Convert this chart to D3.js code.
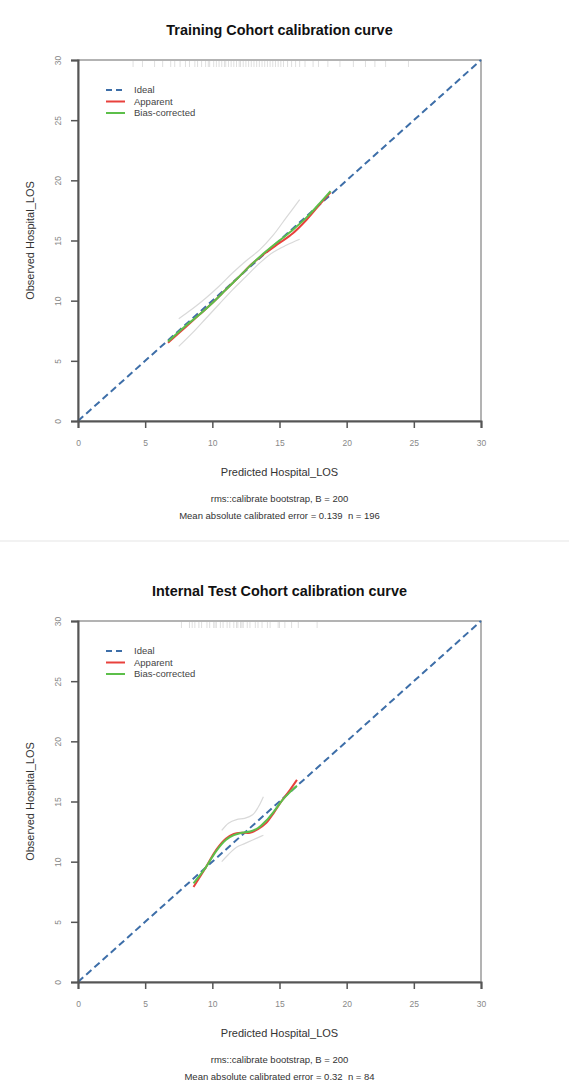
<!DOCTYPE html>
<html>
<head>
<meta charset="utf-8">
<script src="https://cdn.jsdelivr.net/npm/d3@7"></script>
<style>
  body { margin: 0; background: #fff; }
  text { font-family: "Liberation Sans", Arial, sans-serif; }
</style>
</head>
<body>
<script>
// axis ticks
var tickValues = [0, 5, 10, 15, 20, 25, 30];
var legendLabels = ["Ideal", "Apparent", "Bias-corrected"];

// training cohort
var trainX        = [6.7, 8.0, 9.0, 10.0, 11.0, 12.0, 13.0, 14.0, 15.0, 16.0, 17.0, 18.0, 18.8];
var trainApparent = [6.5, 7.8, 8.8, 9.8, 10.9, 12.0, 13.1, 14.0, 14.8, 15.6, 16.7, 18.0, 19.0];
var trainBias     = [6.6, 7.9, 8.8, 9.8, 10.9, 12.0, 13.1, 14.1, 15.0, 15.9, 16.9, 18.1, 19.1];
var trainCiX      = [7.5, 8.5, 9.5, 10.5, 11.5, 12.5, 13.5, 14.5, 15.5, 16.5];
var trainCiUpper  = [8.5, 9.3, 10.2, 11.2, 12.3, 13.3, 14.2, 15.4, 16.9, 18.4];
var trainCiLower  = [6.2, 7.3, 8.5, 9.7, 10.9, 12.0, 13.1, 14.0, 14.6, 15.1];
var trainRug = [4.1, 4.8, 5.7, 6.3, 6.9, 7.2, 7.6, 8.0, 8.3, 8.7, 8.9, 9.2, 9.5, 9.7, 9.8, 10.1,
                10.3, 10.5, 10.7, 10.9, 11.0, 11.2, 11.4, 11.6, 11.8, 12.0, 12.1, 12.3, 12.5,
                12.7, 12.9, 13.1, 13.3, 13.5, 13.7, 13.9, 14.1, 14.3, 14.5, 14.7, 14.9, 15.1,
                15.3, 15.6, 15.9, 16.2, 16.5, 16.9, 17.5, 17.9, 18.6, 19.5, 20.5, 21.4, 22.1,
                22.9, 24.6];

// internal test cohort
var testX        = [8.6, 9.5, 10.3, 11.0, 11.6, 12.2, 12.8, 13.4, 14.0, 14.6, 15.2, 15.8, 16.3];
var testApparent = [7.9, 9.5, 11.0, 11.9, 12.3, 12.4, 12.4, 12.7, 13.2, 14.1, 15.1, 16.0, 16.8];
var testBias     = [8.2, 9.5, 10.9, 11.8, 12.2, 12.4, 12.5, 12.8, 13.4, 14.2, 15.1, 15.8, 16.3];
var testCiX      = [10.7, 11.2, 11.8, 12.4, 13.0, 13.4, 13.8];
var testCiUpper  = [12.6, 13.2, 13.5, 13.6, 13.9, 14.5, 15.4];
var testCiLower  = [10.0, 10.6, 11.2, 11.5, 11.8, 12.0, 12.2];
var testRug = [7.7, 8.3, 8.5, 8.7, 9.0, 9.2, 9.6, 9.8, 10.1, 10.2, 10.3, 10.6, 10.8, 11.1, 11.3,
               11.6, 11.8, 11.9, 12.1, 12.2, 12.3, 12.6, 12.8, 13.2, 13.4, 13.7, 14.1, 14.3,
               14.9, 15.0, 15.4, 15.9, 16.4, 17.8];

var W = 569, H = 1082;
var colIdeal = "#3d6ea8", colApp = "#e8413c", colBias = "#5cbf4a", colCi = "#d9d9d9";

var svg = d3.select("body").append("svg")
    .attr("width", W)
    .attr("height", H);

// light separator between the two screenshots
svg.append("line")
    .attr("x1", 0).attr("x2", W)
    .attr("y1", 541).attr("y2", 541)
    .attr("stroke", "#eeeeee")
    .attr("stroke-width", 1.5);

function zip(xs, ys){
    return xs.map(function(x, i){ return [x, ys[i]]; });
}

function panel(dy, title, subtitle, xs, app, bias, ciX, ciUp, ciLo, rug){
    var left = 78, right = 481, top = 60 + dy, bottom = 421 + dy;
    var x = d3.scaleLinear().domain([0, 30]).range([left, right]);
    var y = d3.scaleLinear().domain([0, 30]).range([bottom, top]);
    var g = svg.append("g");

    g.append("text")
        .attr("x", (left + right) / 2).attr("y", 35 + dy)
        .attr("text-anchor", "middle")
        .attr("font-size", "14.4px")
        .attr("font-weight", "bold")
        .attr("fill", "#111")
        .text(title);

    // frame
    g.append("rect")
        .attr("x", left).attr("y", top)
        .attr("width", right - left).attr("height", bottom - top)
        .attr("fill", "none")
        .attr("stroke", "#9a9a9a")
        .attr("stroke-width", 1.5);

    // rug along the top
    g.selectAll(".rug").data(rug).enter().append("line")
        .attr("x1", function(d){ return x(d); })
        .attr("x2", function(d){ return x(d); })
        .attr("y1", top + 1).attr("y2", top + 7)
        .attr("stroke", "#c4c4c4")
        .attr("stroke-opacity", 0.55)
        .attr("stroke-width", 1);

    var line = d3.line()
        .x(function(d){ return x(d[0]); })
        .y(function(d){ return y(d[1]); })
        .curve(d3.curveCatmullRom.alpha(0.5));

    // bootstrap bands
    [ciUp, ciLo].forEach(function(c){
        g.append("path")
            .attr("d", line(zip(ciX, c)))
            .attr("fill", "none")
            .attr("stroke", colCi)
            .attr("stroke-width", 1.2);
    });

    // ideal
    g.append("path")
        .attr("d", line([[0, 0], [30, 30]]))
        .attr("fill", "none")
        .attr("stroke", colIdeal)
        .attr("stroke-width", 2)
        .attr("stroke-dasharray", "7,4");

    g.append("path")
        .attr("d", line(zip(xs, app)))
        .attr("fill", "none")
        .attr("stroke", colApp)
        .attr("stroke-width", 2);

    g.append("path")
        .attr("d", line(zip(xs, bias)))
        .attr("fill", "none")
        .attr("stroke", colBias)
        .attr("stroke-width", 2);

    // axes
    var xAxis = g.append("g")
        .attr("transform", "translate(0," + bottom + ")")
        .call(d3.axisBottom(x).tickValues(tickValues).tickSize(7).tickPadding(12));
    var yAxis = g.append("g")
        .attr("transform", "translate(" + left + ",0)")
        .call(d3.axisLeft(y).tickValues(tickValues).tickSize(7).tickPadding(6));

    [xAxis, yAxis].forEach(function(a){
        a.select(".domain").attr("stroke", "#555").attr("stroke-width", 2);
        a.selectAll(".tick line").attr("stroke", "#555").attr("stroke-width", 1.5);
        a.selectAll(".tick text")
            .attr("fill", "#888")
            .attr("font-size", "8.5px")
            .attr("font-family", "Liberation Sans, Arial, sans-serif");
    });
    yAxis.selectAll(".tick text")
        .attr("text-anchor", "middle")
        .attr("transform", "translate(-7,0) rotate(-90,-13,0)")
        .attr("x", -13)
        .attr("dy", "0.32em");

    g.append("text")
        .attr("x", (left + right) / 2).attr("y", 476 + dy)
        .attr("text-anchor", "middle")
        .attr("font-size", "11px")
        .attr("fill", "#333")
        .text("Predicted Hospital_LOS");

    g.append("text")
        .attr("transform", "translate(34," + (top + bottom) / 2 + ") rotate(-90)")
        .attr("text-anchor", "middle")
        .attr("font-size", "11px")
        .attr("fill", "#333")
        .text("Observed Hospital_LOS");

    g.selectAll(".sub").data(subtitle).enter().append("text")
        .attr("x", (left + right) / 2)
        .attr("y", function(d, i){ return 502 + dy + i * 17; })
        .attr("text-anchor", "middle")
        .attr("font-size", "9.5px")
        .attr("fill", "#333")
        .style("white-space", "pre")
        .text(function(d){ return d; });

    // legend
    var styles = [
        {c: colIdeal, dash: "6,4"},
        {c: colApp, dash: null},
        {c: colBias, dash: null}
    ];
    var lg = g.selectAll(".lg").data(legendLabels).enter().append("g")
        .attr("transform", function(d, i){ return "translate(106," + (90 + dy + i * 11.5) + ")"; });
    lg.append("line")
        .attr("x1", 0).attr("x2", 19)
        .attr("stroke", function(d, i){ return styles[i].c; })
        .attr("stroke-width", 2)
        .attr("stroke-dasharray", function(d, i){ return styles[i].dash; });
    lg.append("text")
        .attr("x", 28).attr("dy", "0.35em")
        .attr("font-size", "9.5px")
        .attr("fill", "#444")
        .text(function(d){ return d; });
}

panel(0, "Training Cohort calibration curve",
      ["rms::calibrate bootstrap, B = 200", "Mean absolute calibrated error = 0.139  n = 196"],
      trainX, trainApparent, trainBias, trainCiX, trainCiUpper, trainCiLower, trainRug);

panel(561, "Internal Test Cohort calibration curve",
      ["rms::calibrate bootstrap, B = 200", "Mean absolute calibrated error = 0.32  n = 84"],
      testX, testApparent, testBias, testCiX, testCiUpper, testCiLower, testRug);
</script>
</body>
</html>
